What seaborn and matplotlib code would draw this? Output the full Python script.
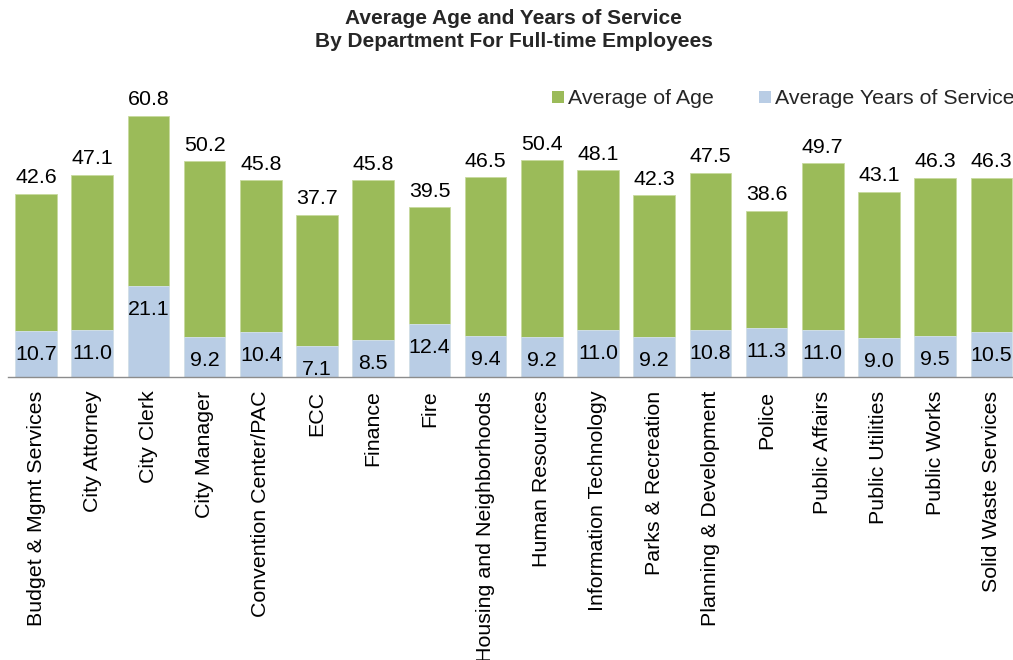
import numpy as np
import pandas as pd
import matplotlib
matplotlib.use("Agg")
import matplotlib.pyplot as plt
import seaborn as sns
from matplotlib.patches import Patch

departments = ["Budget & Mgmt Services", "City Attorney", "City Clerk", "City Manager",
               "Convention Center/PAC", "ECC", "Finance", "Fire",
               "Housing and Neighborhoods", "Human Resources", "Information Technology",
               "Parks & Recreation", "Planning & Development", "Police", "Public Affairs",
               "Public Utilities", "Public Works", "Solid Waste Services"]
avg_age = [42.6, 47.1, 60.8, 50.2, 45.8, 37.7, 45.8, 39.5, 46.5, 50.4, 48.1,
           42.3, 47.5, 38.6, 49.7, 43.1, 46.3, 46.3]
avg_service = [10.7, 11.0, 21.1, 9.2, 10.4, 7.1, 8.5, 12.4, 9.4, 9.2, 11.0,
               9.2, 10.8, 11.3, 11.0, 9.0, 9.5, 10.5]
series_names = ["Average of Age", "Average Years of Service"]
title_text = "Average Age and Years of Service\nBy Department For Full-time Employees"

GREEN = "#9BBB59"
BLUE = "#B9CDE5"
FS = 15.4

sns.set_style("white")
plt.rcParams["font.family"] = ["Liberation Sans", "DejaVu Sans"]

df = pd.DataFrame({"dept": departments, "age": avg_age, "service": avg_service})

fig = plt.figure(figsize=(10.13, 6.6), dpi=100)
ax = fig.add_axes([8 / 1013, 1 - 376.7 / 660, 1011.4 / 1013, 300.3 / 660])

sns.barplot(data=df, x="dept", y="age", color=GREEN, saturation=1, width=0.74,
            ax=ax, linewidth=0.6, edgecolor="#C8DA9E")
sns.barplot(data=df, x="dept", y="service", color=BLUE, saturation=1, width=0.74,
            ax=ax, linewidth=0.6, edgecolor="#D6E2F0")

ax.set_xlim(-0.5, len(departments) - 0.5)
ax.set_ylim(0, 70)
ax.set_xlabel("")
ax.set_ylabel("")
ax.set_yticks([])
for s in ["left", "right", "top"]:
    ax.spines[s].set_visible(False)
ax.spines["bottom"].set_color("#8C8C8C")
ax.spines["bottom"].set_linewidth(1.0)

ax.set_xticks(range(len(departments)))
ax.set_xticklabels(departments, rotation=90, fontsize=FS, color="black")
ax.set_xticks(np.arange(-0.5, len(departments), 1), minor=True)
ax.tick_params(axis="x", which="major", length=0, pad=10)
ax.tick_params(axis="x", which="minor", length=4, width=1, color="#8C8C8C", direction="out")

for i, (a, s) in enumerate(zip(avg_age, avg_service)):
    ax.annotate(f"{a:.1f}", xy=(i, a), xytext=(0, 4.8), textcoords="offset points",
                ha="center", va="bottom", fontsize=FS, color="black", clip_on=False)
    ax.annotate(f"{s:.1f}", xy=(i, s), xytext=(0, -17.0), textcoords="offset points",
                ha="center", va="center", fontsize=FS, color="black")

handles = [Patch(facecolor=GREEN, edgecolor="none"), Patch(facecolor=BLUE, edgecolor="none")]
fig.legend(handles, series_names, loc="center left", bbox_to_anchor=(552 / 1013, 1 - 99 / 660),
           ncol=2, frameon=False, fontsize=FS, handlelength=0.55, handleheight=0.5,
           handletextpad=0.2, columnspacing=2.1, borderpad=0, borderaxespad=0)

fig.text(513.5 / 1013, 1 - 9 / 660, title_text, ha="center", va="top", fontsize=15,
         fontweight="bold", linespacing=1.25)

fig.savefig("out.png", dpi=100)
